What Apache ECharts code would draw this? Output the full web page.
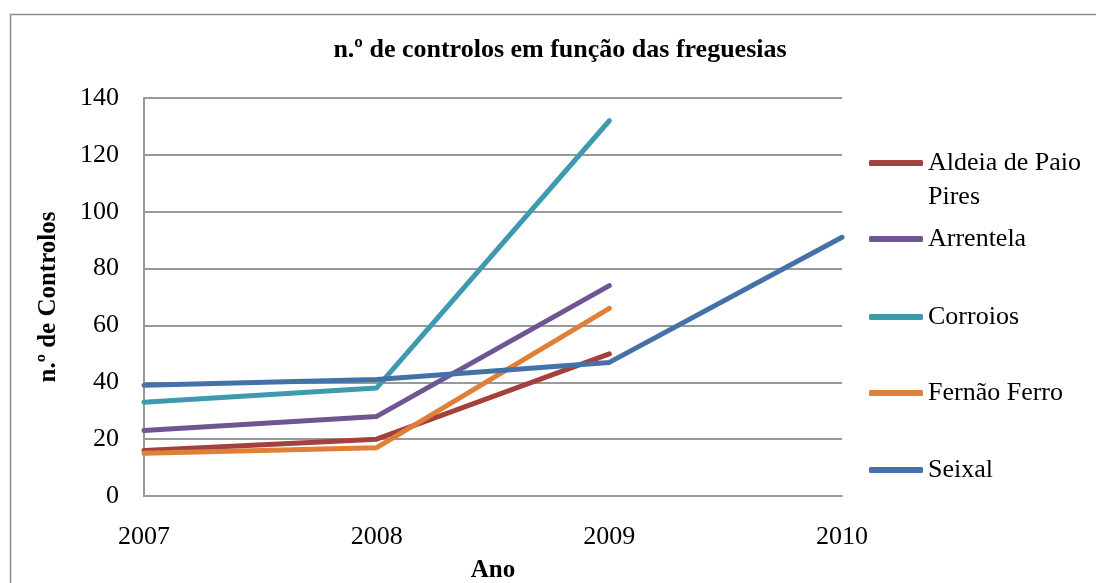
<!DOCTYPE html>
<html>
<head>
<meta charset="UTF-8">
<title>n.º de controlos em função das freguesias</title>
<script src="https://cdn.jsdelivr.net/npm/echarts@6/dist/echarts.min.js"></script>
<style>
  html, body { margin: 0; padding: 0; background: #fff; }
  #chart { width: 1096px; height: 583px; }
</style>
</head>
<body>
<div id="chart"></div>
<script>
// dados
var anos = ['2007', '2008', '2009', '2010'];
var freguesias = ['Aldeia de Paio Pires', 'Arrentela', 'Corroios', 'Fernão Ferro', 'Seixal'];
var aldeiaPaioPires = [16, 20, 50];
var arrentela = [23, 28, 74];
var corroios = [33, 38, 132];
var fernaoFerro = [15, 17, 66];
var seixal = [39, 41, 47, 91];
var cores = ['#A4403D', '#6F5692', '#3F9AB0', '#E07F3A', '#4371A8'];

var valores = [aldeiaPaioPires, arrentela, corroios, fernaoFerro, seixal];
var fonte = 'Liberation Serif';

var chart = echarts.init(document.getElementById('chart'));

// uma legenda por série para acertar a posição vertical de cada uma
// (a primeira tem uma linha vazia antes, para o ícone ficar alinhado com "Aldeia de Paio")
var topos = [112, 222, 300, 376, 453];
var legendas = freguesias.map(function (nome, i) {
  return {
    data: [nome],
    orient: 'vertical',
    left: 869,
    top: topos[i],
    padding: 0,
    icon: 'roundRect',
    itemWidth: 54,
    itemHeight: 6,
    textStyle: { fontFamily: fonte, fontSize: 26, color: '#000', lineHeight: 34 },
    formatter: function (n) { return n === 'Aldeia de Paio Pires' ? ' \nAldeia de Paio\nPires' : n; }
  };
});

var option = {
  backgroundColor: '#fff',
  animation: false,
  color: cores,
  title: {
    text: 'n.º de controlos em função das freguesias',
    left: 560,
    textAlign: 'center',
    top: 37,
    padding: 0,
    textStyle: { fontFamily: fonte, fontSize: 26, fontWeight: 'bold', color: '#000' }
  },
  graphic: [{
    type: 'rect',
    shape: { x: 10.5, y: 14.5, width: 1200, height: 700 },
    style: { fill: 'none', stroke: '#8a8a8a', lineWidth: 1.5 },
    silent: true
  }],
  legend: legendas,
  grid: { left: 144, right: 254, top: 98, bottom: 87, outerBoundsMode: 'none', containLabel: false },
  xAxis: {
    type: 'category',
    data: anos,
    boundaryGap: false,
    name: 'Ano',
    nameLocation: 'middle',
    nameGap: 62,
    nameTextStyle: { fontFamily: fonte, fontSize: 25, fontWeight: 'bold', color: '#000' },
    axisLine: { lineStyle: { color: '#999', width: 2 } },
    axisTick: { show: false },
    axisLabel: { fontFamily: fonte, fontSize: 26, color: '#000', margin: 28 },
    splitLine: { show: false }
  },
  yAxis: {
    type: 'value',
    min: 0,
    max: 140,
    interval: 20,
    name: 'n.º de Controlos',
    nameLocation: 'middle',
    nameGap: 83,
    nameTextStyle: { fontFamily: fonte, fontSize: 25, fontWeight: 'bold', color: '#000' },
    axisLine: { show: true, lineStyle: { color: '#999', width: 2 } },
    axisTick: { show: false },
    axisLabel: { fontFamily: fonte, fontSize: 26, color: '#000', margin: 25 },
    splitLine: { lineStyle: { color: '#999', width: 2 } }
  },
  series: freguesias.map(function (nome, i) {
    return {
      name: nome,
      type: 'line',
      data: valores[i],
      symbol: 'none',
      lineStyle: { width: 5, color: cores[i], cap: 'round', join: 'round' },
      itemStyle: { color: cores[i] }
    };
  })
};

chart.setOption(option);
</script>
</body>
</html>
